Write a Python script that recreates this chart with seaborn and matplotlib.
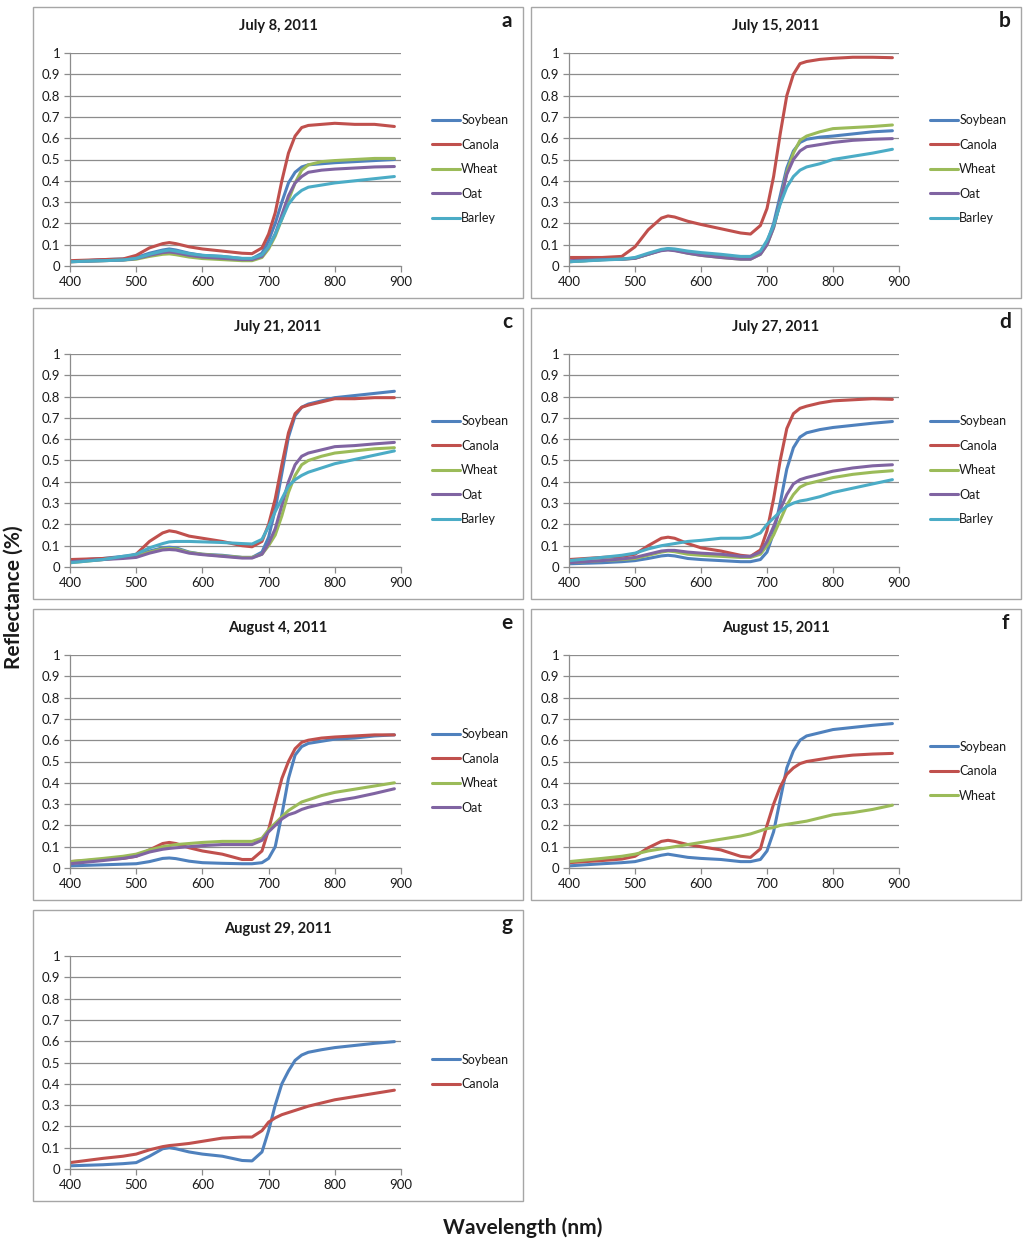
import numpy as np
import pandas as pd
import matplotlib
matplotlib.use("Agg")
import matplotlib.pyplot as plt
import seaborn as sns
from matplotlib.patches import Rectangle

wavelength = [400, 450, 480, 500, 520, 540, 550, 560, 580, 600, 630, 660, 675,
              690, 700, 710, 720, 730, 740, 750, 760, 780, 800, 830, 860, 890]

# a - July 8
a_soybean = [.02, .03, .033, .04, .06, .075, .08, .075, .06, .05, .045, .035, .035,
             .06, .12, .2, .3, .39, .44, .465, .475, .48, .485, .49, .495, .5]
a_canola = [.025, .03, .033, .05, .085, .105, .11, .105, .09, .08, .07, .06, .058,
            .085, .15, .25, .4, .53, .61, .65, .66, .665, .67, .665, .665, .655]
a_wheat = [.02, .025, .028, .032, .045, .055, .057, .053, .042, .035, .03, .025, .025,
           .04, .08, .14, .22, .31, .39, .45, .475, .49, .495, .5, .505, .505]
a_oat = [.02, .025, .028, .035, .05, .063, .066, .062, .05, .042, .036, .03, .03,
         .045, .09, .15, .24, .33, .39, .42, .44, .45, .455, .46, .465, .467]
a_barley = [.02, .025, .028, .036, .055, .07, .075, .07, .058, .05, .045, .036, .036,
            .052, .09, .15, .22, .29, .33, .355, .37, .38, .39, .4, .41, .42]

# b - July 15
b_soybean = [.02, .03, .032, .037, .055, .075, .08, .077, .065, .055, .045, .035, .035,
             .06, .11, .2, .33, .46, .54, .58, .595, .605, .61, .62, .63, .635]
b_canola = [.04, .04, .045, .09, .17, .225, .235, .23, .21, .195, .175, .155, .15,
            .19, .27, .42, .62, .8, .9, .95, .96, .97, .975, .98, .98, .978]
b_wheat = [.02, .03, .032, .036, .055, .075, .078, .074, .06, .05, .04, .032, .032,
           .055, .1, .18, .3, .44, .53, .59, .61, .63, .645, .65, .655, .662]
b_oat = [.025, .03, .032, .036, .055, .072, .075, .072, .06, .05, .04, .032, .032,
         .055, .1, .18, .3, .43, .5, .54, .56, .57, .58, .59, .595, .598]
b_barley = [.02, .028, .032, .04, .06, .078, .082, .08, .07, .063, .055, .045, .045,
            .07, .12, .19, .29, .37, .42, .45, .465, .48, .5, .515, .53, .548]

# c - July 21
c_soybean = [.03, .04, .05, .055, .075, .09, .093, .09, .07, .06, .055, .045, .045,
             .07, .14, .27, .44, .61, .71, .75, .765, .78, .795, .805, .815, .825]
c_canola = [.035, .04, .045, .06, .12, .16, .17, .165, .145, .135, .12, .1, .095,
            .12, .2, .32, .48, .63, .72, .75, .76, .775, .79, .79, .795, .795]
c_wheat = [.02, .035, .045, .05, .07, .085, .087, .085, .068, .06, .052, .045, .045,
           .06, .1, .15, .24, .35, .43, .48, .5, .52, .535, .545, .555, .56]
c_oat = [.025, .035, .04, .045, .065, .08, .082, .08, .065, .058, .05, .042, .042,
         .06, .11, .18, .29, .4, .48, .52, .535, .55, .565, .57, .578, .585]
c_barley = [.02, .035, .05, .06, .09, .11, .118, .12, .12, .118, .115, .11, .108,
            .13, .19, .26, .32, .38, .41, .43, .445, .465, .485, .505, .525, .545]

# d - July 27
d_soybean = [.015, .02, .025, .03, .04, .052, .055, .052, .04, .035, .03, .025, .025,
             .035, .07, .16, .3, .46, .56, .61, .63, .645, .655, .665, .675, .683]
d_canola = [.035, .045, .05, .06, .1, .135, .14, .135, .11, .09, .075, .055, .05,
            .08, .17, .32, .5, .65, .72, .745, .755, .77, .78, .785, .79, .787]
d_wheat = [.02, .03, .035, .04, .055, .07, .075, .072, .06, .055, .05, .045, .045,
           .06, .1, .15, .22, .29, .34, .375, .39, .405, .42, .435, .445, .452]
d_oat = [.02, .03, .038, .045, .06, .075, .078, .078, .07, .065, .06, .05, .05,
         .07, .12, .19, .27, .34, .39, .41, .42, .435, .45, .465, .475, .48]
d_barley = [.03, .045, .055, .065, .085, .1, .105, .11, .12, .125, .135, .135, .14,
            .16, .2, .23, .26, .285, .3, .31, .315, .33, .35, .37, .39, .41]

# e - August 4
e_soybean = [.01, .015, .018, .02, .03, .045, .047, .044, .032, .025, .022, .02, .02,
             .025, .045, .1, .25, .42, .53, .57, .585, .595, .605, .61, .62, .625]
e_canola = [.03, .04, .045, .055, .085, .115, .12, .115, .095, .08, .065, .04, .04,
            .08, .18, .3, .42, .5, .56, .59, .6, .61, .615, .62, .625, .625]
e_wheat = [.03, .045, .055, .065, .085, .1, .105, .11, .115, .12, .125, .125, .125,
           .14, .18, .21, .24, .27, .29, .31, .32, .34, .355, .37, .385, .4]
e_oat = [.02, .035, .045, .055, .075, .088, .092, .095, .1, .105, .11, .11, .11,
         .13, .17, .2, .23, .25, .26, .275, .285, .3, .315, .33, .35, .372]

# f - August 15
f_soybean = [.01, .02, .025, .03, .045, .06, .065, .06, .05, .045, .04, .03, .03,
             .04, .08, .17, .32, .47, .55, .6, .62, .635, .65, .66, .67, .678]
f_canola = [.025, .035, .042, .055, .095, .125, .13, .125, .11, .1, .085, .055, .05,
            .09, .2, .3, .38, .44, .47, .49, .5, .51, .52, .53, .535, .538]
f_wheat = [.03, .045, .055, .065, .08, .09, .095, .1, .11, .12, .135, .15, .16,
           .175, .185, .19, .2, .205, .21, .215, .22, .235, .25, .26, .275, .295]

# g - August 29
g_soybean = [.015, .02, .025, .03, .06, .095, .1, .095, .08, .07, .06, .04, .038,
             .08, .18, .3, .4, .46, .51, .535, .548, .56, .57, .58, .59, .598]
g_canola = [.03, .05, .06, .07, .09, .105, .11, .113, .12, .13, .145, .15, .15,
            .18, .22, .24, .255, .265, .275, .285, .295, .31, .325, .34, .355, .37]

titles = ["July 8, 2011", "July 15, 2011", "July 21, 2011", "July 27, 2011",
          "August 4, 2011", "August 15, 2011", "August 29, 2011"]
letters = ["a", "b", "c", "d", "e", "f", "g"]
panel_data = [
    {"Soybean": a_soybean, "Canola": a_canola, "Wheat": a_wheat, "Oat": a_oat, "Barley": a_barley},
    {"Soybean": b_soybean, "Canola": b_canola, "Wheat": b_wheat, "Oat": b_oat, "Barley": b_barley},
    {"Soybean": c_soybean, "Canola": c_canola, "Wheat": c_wheat, "Oat": c_oat, "Barley": c_barley},
    {"Soybean": d_soybean, "Canola": d_canola, "Wheat": d_wheat, "Oat": d_oat, "Barley": d_barley},
    {"Soybean": e_soybean, "Canola": e_canola, "Wheat": e_wheat, "Oat": e_oat},
    {"Soybean": f_soybean, "Canola": f_canola, "Wheat": f_wheat},
    {"Soybean": g_soybean, "Canola": g_canola},
]

palette = {"Soybean": "#4F81BD", "Canola": "#C0504D", "Wheat": "#9BBB59",
           "Oat": "#8064A2", "Barley": "#4BACC6"}

sns.set_theme(style="white")
plt.rcParams["font.family"] = ["Lato", "DejaVu Sans"]

W, H = 1024, 1244
fig = plt.figure(figsize=(W / 100, H / 100), dpi=100)


def frac(x0, y0, x1, y1):
    return [x0 / W, 1 - y1 / H, (x1 - x0) / W, (y1 - y0) / H]


grid_col = "#8c8c8c"
box_left = [33, 531]
plot_x = [(70, 401), (569, 899)]
box_top = [7, 308, 609, 910]

for i, crops in enumerate(panel_data):
    col, row = i % 2, i // 2
    bl = box_left[col]
    bt = box_top[row]
    fig.patches.append(Rectangle((bl / W, 1 - (bt + 291) / H), 490 / W, 291 / H,
                                 transform=fig.transFigure, fill=False,
                                 edgecolor="#a6a6a6", linewidth=1.0))
    fig.text((bl + 245) / W, 1 - (bt + 19) / H, titles[i], ha="center", va="center",
             fontsize=10.5, fontweight="bold", color="#1a1a1a")
    fig.text((bl + 474) / W, 1 - (bt + 14) / H, letters[i], ha="center", va="center",
             fontsize=15, fontweight="bold", color="#1a1a1a")

    x0, x1 = plot_x[col]
    ax = fig.add_axes(frac(x0, bt + 46, x1, bt + 259))
    df = pd.DataFrame(crops)
    df["wavelength"] = wavelength
    long = df.melt(id_vars="wavelength", var_name="crop", value_name="reflectance")
    sns.lineplot(data=long, x="wavelength", y="reflectance", hue="crop",
                 hue_order=list(crops.keys()), palette=palette, linewidth=2.2,
                 ax=ax, legend="auto")
    handles, labels = ax.get_legend_handles_labels()
    ax.get_legend().remove()
    leg = ax.legend(handles, labels, loc="center left", bbox_to_anchor=(1.08, 0.455),
                    frameon=False, fontsize=9, handlelength=2.2, handletextpad=0.1,
                    labelspacing=1.0, borderaxespad=0)
    for t in leg.get_texts():
        t.set_color("#1a1a1a")

    ax.set_xlim(400, 900)
    ax.set_ylim(0, 1)
    ax.set_xticks([400, 500, 600, 700, 800, 900])
    ax.set_yticks(np.round(np.arange(0, 1.01, 0.1), 1))
    ax.set_yticklabels(["0", "0.1", "0.2", "0.3", "0.4", "0.5", "0.6", "0.7", "0.8", "0.9", "1"])
    ax.yaxis.grid(True, color=grid_col, linewidth=0.9)
    ax.set_axisbelow(True)
    for s in ["top", "right"]:
        ax.spines[s].set_visible(False)
    for s in ["left", "bottom"]:
        ax.spines[s].set_color(grid_col)
        ax.spines[s].set_linewidth(0.9)
    ax.tick_params(axis="both", which="major", direction="out", length=4, width=0.9,
                   color=grid_col, labelsize=9.5, labelcolor="#1a1a1a", pad=3,
                   left=True, bottom=True)
    ax.set_xlabel("")
    ax.set_ylabel("")

fig.text(14 / W, 1 - 597 / H, "Reflectance (%)", rotation=90, ha="center", va="center",
         fontsize=15, fontweight="bold", color="#1a1a1a")
fig.text(523 / W, 1 - 1228 / H, "Wavelength (nm)", ha="center", va="center",
         fontsize=15, fontweight="bold", color="#1a1a1a")

fig.savefig("out.png", dpi=100, facecolor="white")
